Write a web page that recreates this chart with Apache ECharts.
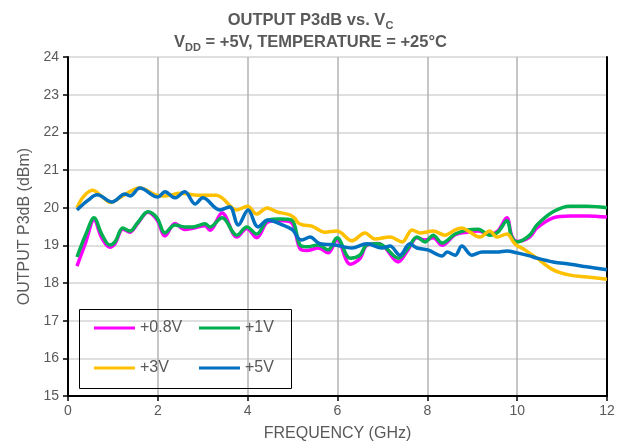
<!DOCTYPE html>
<html>
<head>
<meta charset="utf-8">
<script src="https://cdn.jsdelivr.net/npm/echarts@6/dist/echarts.min.js"></script>
<style>html,body{margin:0;padding:0;background:#fff;}#c{width:621px;height:447px;}</style>
</head>
<body>
<div id="c"></div>
<script>
// ---- data ----
var seriesNames = ['+0.8V', '+1V', '+3V', '+5V'];
var xTicks = [0, 2, 4, 6, 8, 10, 12];
var yTicks = [15, 16, 17, 18, 19, 20, 21, 22, 23, 24];

var freqV08 = [0.2,0.4,0.58,0.75,0.93,1.05,1.22,1.38,1.55,1.78,1.98,2.16,2.38,2.6,2.78,3.05,3.16,3.43,3.76,3.98,4.2,4.45,4.72,4.98,5.17,5.32,5.57,5.79,5.99,6.28,6.5,6.65,6.9,7.05,7.35,7.57,7.77,7.95,8.13,8.33,8.62,8.9,9.13,9.39,9.57,9.77,9.88,10.0,10.28,10.44,10.8,11.18,11.55,12];
var valV08  = [18.45,19.1,19.68,19.2,18.95,19.05,19.43,19.35,19.58,19.88,19.68,19.25,19.58,19.42,19.45,19.52,19.4,19.86,19.22,19.45,19.2,19.62,19.66,19.6,18.9,18.86,18.93,18.8,19.15,18.5,18.65,19.0,19.05,18.95,18.56,18.88,19.2,19.14,19.2,19.0,19.28,19.35,19.38,19.3,19.38,19.73,19.25,19.1,19.22,19.46,19.73,19.78,19.78,19.75];

var freqV1 = [0.2,0.4,0.58,0.75,0.93,1.05,1.22,1.38,1.55,1.78,1.98,2.16,2.38,2.6,2.78,3.05,3.16,3.43,3.76,3.98,4.2,4.45,4.72,4.98,5.17,5.32,5.57,5.79,5.99,6.28,6.5,6.65,6.9,7.05,7.35,7.57,7.77,7.95,8.13,8.33,8.62,8.9,9.13,9.39,9.57,9.77,9.88,10.0,10.28,10.44,10.8,11.18,11.55,12];
var valV1  = [18.69,19.3,19.73,19.3,19.01,19.1,19.46,19.38,19.6,19.89,19.73,19.33,19.54,19.49,19.49,19.57,19.49,19.73,19.27,19.49,19.3,19.67,19.7,19.67,19.0,18.96,19.01,18.88,19.2,18.66,18.74,19.01,19.04,18.96,18.66,18.93,19.22,19.09,19.27,19.06,19.3,19.41,19.43,19.27,19.35,19.65,19.22,19.09,19.27,19.54,19.89,20.04,20.04,20.0];

var freqV3 = [0.2,0.35,0.55,0.75,0.95,1.2,1.6,1.95,2.16,2.5,2.9,3.3,3.43,3.76,4.0,4.2,4.43,4.65,4.94,5.05,5.12,5.23,5.43,5.72,5.99,6.32,6.61,6.83,7.17,7.44,7.66,7.84,8.13,8.39,8.62,8.77,8.95,9.17,9.39,9.55,9.77,9.95,10.17,10.44,10.8,11.18,11.55,12];
var valV3  = [20.0,20.3,20.46,20.3,20.14,20.3,20.52,20.34,20.31,20.38,20.33,20.33,20.26,19.94,20.04,19.83,19.99,19.89,19.81,19.72,19.6,19.54,19.51,19.35,19.38,19.12,19.33,19.17,19.22,19.09,19.41,19.33,19.38,19.27,19.41,19.46,19.35,19.22,19.38,19.22,19.3,19.04,18.88,18.66,18.35,18.21,18.16,18.1];

var freqV5 = [0.2,0.45,0.65,0.98,1.27,1.38,1.6,2.0,2.16,2.38,2.6,2.83,3.0,3.38,3.6,3.79,4.01,4.23,4.45,4.72,5.0,5.12,5.2,5.39,5.61,5.94,6.32,6.65,6.99,7.17,7.39,7.61,7.77,8.01,8.33,8.44,8.62,8.77,8.99,9.22,9.55,9.77,10.0,10.28,10.44,10.8,11.18,11.55,12];
var valV5  = [19.94,20.2,20.34,20.15,20.36,20.31,20.52,20.28,20.42,20.26,20.42,20.1,20.26,19.94,20.02,19.54,19.94,19.49,19.67,19.57,19.41,19.2,19.14,19.22,19.04,19.01,18.93,19.04,18.93,18.98,18.74,19.04,18.93,18.88,18.72,18.82,18.74,18.98,18.74,18.82,18.82,18.85,18.8,18.72,18.66,18.56,18.5,18.43,18.35];

var colors = ['#FF00FF', '#00B050', '#FFC000', '#0070C0'];

function zip(xs, ys) { return xs.map(function (x, i) { return [x, ys[i]]; }); }
var seriesData = [zip(freqV08, valV08), zip(freqV1, valV1), zip(freqV3, valV3), zip(freqV5, valV5)];

var FONT = 'Liberation Sans, Arial, sans-serif';
var GREY = '#595959';

var chart = echarts.init(document.getElementById('c'), null, { renderer: 'canvas' });

function legendAt(name, left, top) {
  return {
    data: [name], left: left, top: top, orient: 'horizontal',
    icon: 'rect', itemWidth: 41, itemHeight: 3, itemGap: 0, itemTextGap: 4,
    textStyle: { fontFamily: FONT, fontSize: 16, color: GREY },
    selectedMode: false, padding: 0
  };
}

var option = {
  animation: false,
  backgroundColor: '#ffffff',
  color: colors,
  title: {
    left: 'center', top: 4,
    text: 'OUTPUT P3dB vs. V{s|C}\nV{s|DD} = +5V, TEMPERATURE = +25°C',
    textStyle: {
      fontFamily: FONT, fontSize: 16.5, fontWeight: 'bold', color: GREY, lineHeight: 22,
      rich: { s: { fontFamily: FONT, fontSize: 11, fontWeight: 'bold', color: GREY, verticalAlign: 'bottom', padding: [7, 0, 0, 0] } }
    }
  },
  legend: [
    legendAt(seriesNames[0], 94, 320),
    legendAt(seriesNames[1], 199, 320),
    legendAt(seriesNames[2], 94, 360),
    legendAt(seriesNames[3], 199, 360)
  ],
  graphic: [{
    type: 'rect', z: 100, silent: true,
    shape: { x: 79.5, y: 309.5, width: 212, height: 79 },
    style: { fill: 'rgba(0,0,0,0)', stroke: '#000', lineWidth: 1 }
  }],
  grid: { left: 68, right: 14, top: 57, bottom: 51, containLabel: false },
  xAxis: {
    type: 'value', min: xTicks[0], max: xTicks[xTicks.length - 1], interval: 2,
    name: 'FREQUENCY (GHz)', nameLocation: 'middle', nameGap: 30,
    nameTextStyle: { fontFamily: FONT, fontSize: 16, color: GREY },
    axisLine: { show: true, onZero: false, lineStyle: { color: '#000', width: 2 } },
    axisTick: { show: true, inside: false, length: 5, lineStyle: { color: '#000', width: 1.5 } },
    axisLabel: { fontFamily: FONT, fontSize: 14, color: GREY, margin: 8 },
    splitLine: { show: true, lineStyle: { color: '#b3b3b3', width: 1.5 } }
  },
  yAxis: [{
    type: 'value', min: yTicks[0], max: yTicks[yTicks.length - 1], interval: 1,
    name: 'OUTPUT P3dB (dBm)', nameLocation: 'middle', nameGap: 35, nameRotate: 90,
    nameTextStyle: { fontFamily: FONT, fontSize: 16, color: GREY },
    axisLine: { show: true, onZero: false, lineStyle: { color: '#000', width: 2 } },
    axisTick: { show: true, inside: false, length: 5, lineStyle: { color: '#000', width: 1.5 } },
    axisLabel: { fontFamily: FONT, fontSize: 14, color: GREY, margin: 9 },
    splitLine: { show: true, lineStyle: { color: '#d4d4d4', width: 1.5 } }
  }, {
    type: 'value', position: 'right', min: yTicks[0], max: yTicks[yTicks.length - 1], interval: 1,
    axisLine: { show: true, onZero: false, lineStyle: { color: '#000', width: 2 } },
    axisTick: { show: false }, axisLabel: { show: false }, splitLine: { show: false }
  }],
  series: seriesNames.map(function (n, i) {
    return {
      name: n, type: 'line', data: seriesData[i], smooth: 0.35, symbol: 'none',
      lineStyle: { width: 3.5, color: colors[i] }, itemStyle: { color: colors[i] }, z: 2 + i
    };
  })
};
chart.setOption(option);
</script>
</body>
</html>
